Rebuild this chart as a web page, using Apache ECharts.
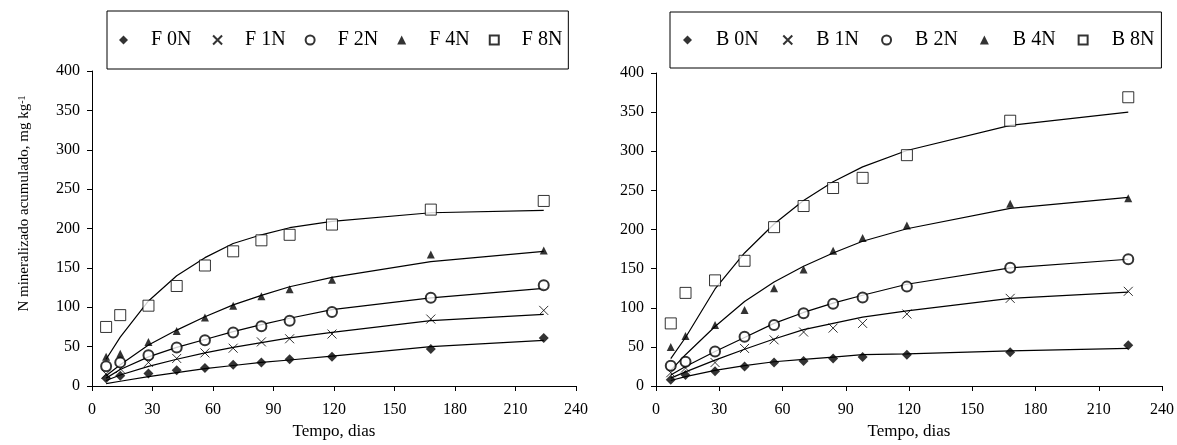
<!DOCTYPE html>
<html>
<head>
<meta charset="utf-8">
<title>N mineralizado acumulado</title>
<script src="https://cdn.jsdelivr.net/npm/echarts@6/dist/echarts.min.js"></script>
<style>
  html, body { margin: 0; padding: 0; background: #fff; }
  #chart { width: 1177px; height: 445px; }
</style>
</head>
<body>
<div id="chart"></div>
<script>
// tempo de incubação (dias)
var days = [7, 14, 28, 42, 56, 70, 84, 98, 119, 168, 224];

// solo F - valores observados
var f0 = [10, 13, 16, 20, 23, 27, 30, 34, 37, 47, 61];
var f1 = [15, 22, 30, 35, 42, 48, 56, 60, 66, 85, 96];
var f2 = [25, 30, 39, 49, 58, 68, 76, 83, 94, 112, 128];
var f4 = [37, 41, 56, 70, 87, 102, 114, 123, 135, 167, 172];
var f8 = [75, 90, 102, 127, 153, 171, 185, 192, 205, 224, 235];
// solo F - curvas ajustadas
var f0fit = [3, 6, 12, 17, 22, 26, 30, 33, 38, 50, 58];
var f1fit = [7, 14, 25, 34, 42, 49, 55, 61, 68, 83, 91];
var f2fit = [10, 21, 37, 49, 59, 69, 78, 86, 97, 112, 124];
var f4fit = [13, 27, 52, 71, 88, 103, 115, 126, 138, 158, 171];
var f8fit = [34, 62, 108, 140, 163, 181, 192, 201, 209, 220, 223];

// solo B - valores observados
var b0 = [8, 14, 19, 25, 30, 32, 35, 37, 40, 43, 52];
var b1 = [17, 23, 30, 48, 59, 69, 74, 80, 92, 112, 121];
var b2 = [26, 31, 44, 63, 78, 93, 105, 113, 127, 151, 162];
var b4 = [50, 64, 78, 97, 125, 149, 173, 189, 205, 233, 240];
var b8 = [80, 119, 135, 160, 203, 230, 253, 266, 295, 339, 369];
// solo B - curvas ajustadas
var b0fit = [7, 12, 20, 26, 31, 34, 37, 40, 41, 45, 48];
var b1fit = [10, 18, 33, 47, 60, 72, 80, 88, 96, 112, 120];
var b2fit = [14, 25, 44, 62, 80, 94, 106, 116, 130, 151, 162];
var b4fit = [20, 40, 76, 108, 133, 153, 170, 185, 201, 227, 241];
var b8fit = [35, 62, 124, 170, 207, 237, 261, 280, 301, 333, 350];

var namesF = ['F 0N', 'F 1N', 'F 2N', 'F 4N', 'F 8N'];
var namesB = ['B 0N', 'B 1N', 'B 2N', 'B 4N', 'B 8N'];

var FONT = 'Liberation Serif';
var crossPath = 'path://M0,0L10,10M10,0L0,10';

// estilo de marcador de cada dose (0N,1N,2N,4N,8N)
var markers = [
  { symbol: 'diamond', size: 10, itemStyle: { color: '#000' } },
  { symbol: crossPath, size: 9, itemStyle: { color: 'none', borderColor: '#000', borderWidth: 1 } },
  { symbol: 'circle', size: 10, itemStyle: { color: '#fff', borderColor: '#000', borderWidth: 2 } },
  { symbol: 'triangle', size: 8, itemStyle: { color: '#000' } },
  { symbol: 'rect', size: 11, itemStyle: { color: '#fff', borderColor: '#000', borderWidth: 1 } }
];

function pairs(ys) {
  return days.map(function (d, i) { return [d, ys[i]]; });
}

function scatter(name, ys, k, idx) {
  var m = markers[k];
  return {
    type: 'scatter', name: name, xAxisIndex: idx, yAxisIndex: idx,
    symbol: m.symbol, symbolSize: m.size, itemStyle: m.itemStyle,
    data: pairs(ys), z: 3
  };
}

function fitLine(ys, idx) {
  return {
    type: 'line', xAxisIndex: idx, yAxisIndex: idx,
    showSymbol: false, symbol: 'none', silent: true,
    lineStyle: { color: '#000', width: 1.2 },
    data: pairs(ys), z: 2
  };
}

function xAxis(idx) {
  return {
    type: 'value', gridIndex: idx, min: 0, max: 240, interval: 30,
    name: 'Tempo, dias', nameLocation: 'middle', nameGap: 37,
    nameTextStyle: { fontFamily: FONT, fontSize: 17, color: '#000' },
    axisLine: { lineStyle: { color: '#000', width: 1 } },
    axisTick: { show: true, inside: false, length: 5, lineStyle: { color: '#000' } },
    axisLabel: { fontFamily: FONT, fontSize: 16, color: '#000', margin: 16 },
    splitLine: { show: false }
  };
}

function yAxis(idx, withName) {
  var ax = {
    type: 'value', gridIndex: idx, min: 0, max: 400, interval: 50,
    axisLine: { show: true, lineStyle: { color: '#000', width: 1 } },
    axisTick: { show: true, inside: false, length: 5, lineStyle: { color: '#000' } },
    axisLabel: { fontFamily: FONT, fontSize: 16, color: '#000', margin: 12 },
    splitLine: { show: false }
  };
  if (withName) {
    ax.name = 'N mineralizado acumulado, mg kg{s|-1}';
    ax.nameLocation = 'middle';
    ax.nameGap = 60;
    ax.nameTextStyle = {
      fontFamily: FONT, fontSize: 15, color: '#000',
      padding: [0, 0, 0, 50],
      rich: { s: { fontFamily: FONT, fontSize: 10, color: '#000', verticalAlign: 'top' } }
    };
  }
  return ax;
}

function legend(names, left, top, pad, textPad, gap) {
  return {
    data: names, orient: 'horizontal', left: left, top: top,
    backgroundColor: '#fff',
    borderColor: '#000', borderWidth: 1, padding: pad,
    itemWidth: 9, itemHeight: 9, itemGap: gap,
    textStyle: { fontFamily: FONT, fontSize: 20, color: '#000', padding: [0, 0, 0, textPad] }
  };
}

var series = [];
var obsF = [f0, f1, f2, f4, f8], fitF = [f0fit, f1fit, f2fit, f4fit, f8fit];
var obsB = [b0, b1, b2, b4, b8], fitB = [b0fit, b1fit, b2fit, b4fit, b8fit];
for (var k = 0; k < 5; k++) {
  series.push(fitLine(fitF[k], 0));
  series.push(scatter(namesF[k], obsF[k], k, 0));
  series.push(fitLine(fitB[k], 1));
  series.push(scatter(namesB[k], obsB[k], k, 1));
}

var chart = echarts.init(document.getElementById('chart'), null, { renderer: 'canvas' });
chart.setOption({
  animation: false,
  backgroundColor: '#fff',
  tooltip: { show: false },
  legend: [
    legend(namesF, 107, 11, [19, 6, 19, 12], 18, 19),
    legend(namesB, 670, 12, [18, 7, 18, 13], 19, 22)
  ],
  grid: [
    { left: 92, top: 71, width: 484, height: 317 },
    { left: 656, top: 73, width: 506, height: 320 }
  ],
  xAxis: [xAxis(0), xAxis(1)],
  yAxis: [yAxis(0, true), yAxis(1, false)],
  series: series
});
</script>
</body>
</html>
